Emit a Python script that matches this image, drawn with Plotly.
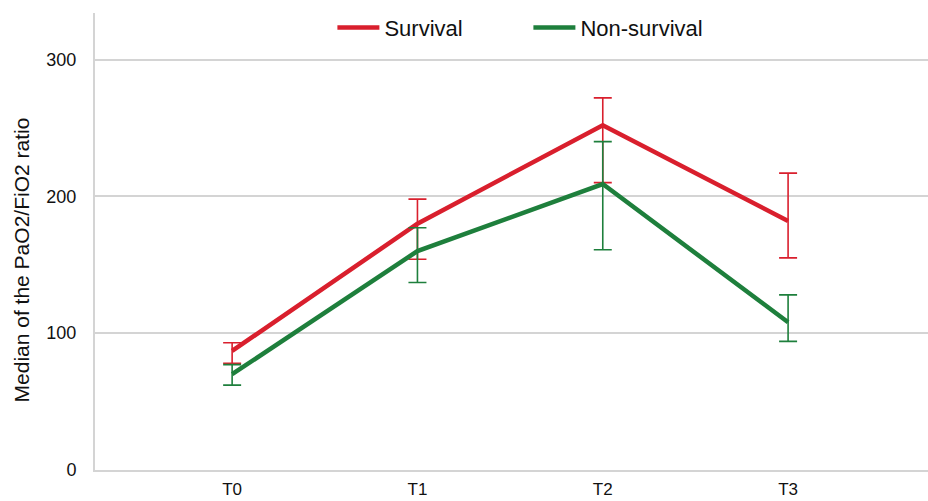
import plotly.graph_objects as go

# Time points and PaO2/FiO2 medians with interquartile-style bounds
timepoints = ["T0", "T1", "T2", "T3"]

survival_median = [87, 180, 252, 182]
survival_upper = [93, 198, 272, 217]
survival_lower = [78, 154, 210, 155]

nonsurvival_median = [70, 160, 209, 108]
nonsurvival_upper = [77, 177, 240, 128]
nonsurvival_lower = [62, 137, 161, 94]

y_ticks = [0, 100, 200, 300]
y_title = "Median of the PaO2/FiO2 ratio"

RED = "#d91f2d"
GREEN = "#1e7f3c"


def err(med, up, lo, color):
    return dict(
        type="data",
        symmetric=False,
        array=[u - m for u, m in zip(up, med)],
        arrayminus=[m - l for m, l in zip(med, lo)],
        thickness=1.6,
        width=9,
        color=color,
    )


fig = go.Figure()
fig.add_trace(go.Scatter(
    x=timepoints, y=survival_median, mode="lines", name="Survival",
    line=dict(color=RED, width=4.5),
    error_y=err(survival_median, survival_upper, survival_lower, RED),
))
fig.add_trace(go.Scatter(
    x=timepoints, y=nonsurvival_median, mode="lines", name="Non-survival",
    line=dict(color=GREEN, width=4.5),
    error_y=err(nonsurvival_median, nonsurvival_upper, nonsurvival_lower, GREEN),
))

# Rotated y-axis caption placed in paper coordinates
fig.add_annotation(
    text=y_title, textangle=-90, showarrow=False,
    xref="paper", yref="paper", x=-0.088, y=0.46,
    xanchor="center", yanchor="middle",
    font=dict(size=21, color="#111111"),
)

fig.update_layout(
    width=928, height=501,
    margin=dict(l=95, r=0, t=13, b=31),
    paper_bgcolor="white", plot_bgcolor="white",
    font=dict(family="Liberation Sans, Arial, sans-serif", color="#111111", size=18),
    showlegend=True,
    legend=dict(
        orientation="h", x=0.285, xanchor="left", y=0.968, yanchor="middle",
        font=dict(size=22), bgcolor="rgba(0,0,0,0)",
        entrywidth=139, entrywidthmode="pixels", itemwidth=42,
        traceorder="normal",
    ),
    hovermode=False,
)
fig.update_xaxes(
    type="category", range=[-0.74, 3.755], automargin=False,
    showgrid=False, showline=True, linecolor="#d4d4d4", linewidth=2,
    ticks="outside", ticklen=3, tickcolor="rgba(0,0,0,0)",
    tickfont=dict(size=17), zeroline=False,
)
fig.update_yaxes(
    range=[0, 334], tickvals=y_ticks, automargin=False,
    showgrid=True, gridcolor="#d4d4d4", gridwidth=2,
    showline=True, linecolor="#d4d4d4", linewidth=2,
    ticks="outside", ticklen=13, tickcolor="rgba(0,0,0,0)",
    tickfont=dict(size=18), zeroline=False,
)

fig.write_html("out.html")
